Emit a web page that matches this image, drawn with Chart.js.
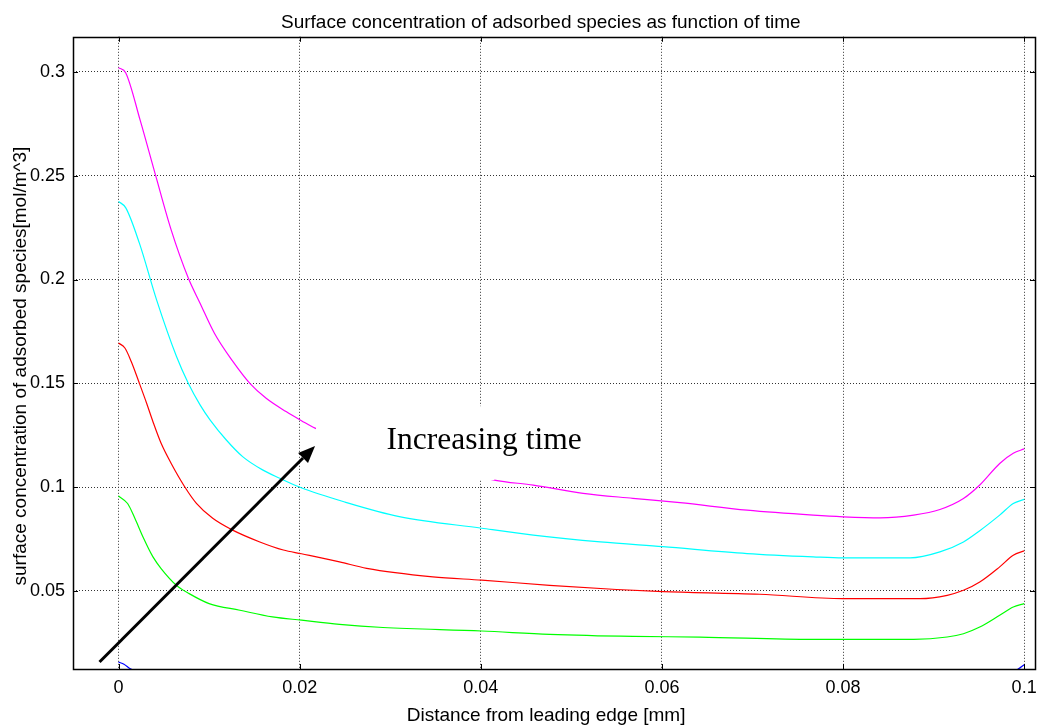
<!DOCTYPE html>
<html>
<head>
<meta charset="utf-8">
<script src="https://cdn.jsdelivr.net/npm/chart.js@4/dist/chart.umd.min.js"></script>
<style>
  html, body { margin: 0; padding: 0; background: #fff; }
</style>
</head>
<body>
<canvas id="c" width="1038" height="728"></canvas>
<script>
// Tick labels
const xTicks = [0, 0.02, 0.04, 0.06, 0.08, 0.1];
const yTicks = [0.05, 0.1, 0.15, 0.2, 0.25, 0.3];

// Curves (distance [mm], concentration)
const magentaX = [0, 0.0008, 0.0024, 0.0041, 0.0058, 0.0077, 0.009, 0.0106, 0.0126, 0.0145, 0.0163, 0.0185, 0.0202, 0.0217, 0.0415, 0.0458, 0.0513, 0.0568, 0.062, 0.0694, 0.0767, 0.08, 0.0841, 0.0878, 0.0907, 0.0933, 0.0951, 0.0973, 0.0988, 0.1];
const magentaY = [0.302, 0.2995, 0.2765, 0.25, 0.224, 0.2007, 0.1886, 0.174, 0.1607, 0.150, 0.1428, 0.1364, 0.132, 0.1284, 0.1034, 0.101, 0.097, 0.0946, 0.0925, 0.0889, 0.0865, 0.0857, 0.0852, 0.0865, 0.0892, 0.0945, 0.101, 0.1114, 0.1163, 0.1184];

const cyanX = [0, 0.0008, 0.0023, 0.0042, 0.0064, 0.0077, 0.009, 0.0101, 0.0119, 0.0137, 0.0159, 0.0178, 0.0201, 0.025, 0.031, 0.0401, 0.0458, 0.0532, 0.0601, 0.0694, 0.0767, 0.08, 0.0874, 0.0907, 0.0933, 0.0951, 0.0973, 0.0988, 0.1];
const cyanY = [0.2376, 0.2345, 0.2175, 0.1902, 0.1629, 0.150, 0.1396, 0.1324, 0.1227, 0.1147, 0.1083, 0.1043, 0.0998, 0.0928, 0.0858, 0.0802, 0.0769, 0.0736, 0.0713, 0.068, 0.0664, 0.0659, 0.0659, 0.0688, 0.0736, 0.079, 0.0865, 0.0921, 0.0941];

const redX = [0, 0.0007, 0.0014, 0.0023, 0.0031, 0.0038, 0.0047, 0.0058, 0.0073, 0.0086, 0.0104, 0.0126, 0.0156, 0.0182, 0.0202, 0.0244, 0.0274, 0.0347, 0.0401, 0.0476, 0.055, 0.0601, 0.0708, 0.08, 0.0885, 0.0915, 0.0933, 0.0951, 0.0973, 0.0988, 0.1];
const redY = [0.1694, 0.167, 0.1605, 0.150, 0.1404, 0.1315, 0.1211, 0.1115, 0.1002, 0.0922, 0.085, 0.0793, 0.0736, 0.0697, 0.0679, 0.064, 0.0609, 0.0568, 0.0552, 0.0527, 0.0507, 0.0497, 0.0484, 0.0463, 0.0463, 0.0479, 0.0503, 0.0543, 0.0616, 0.0672, 0.0693];

const greenX = [0, 0.001, 0.0018, 0.0027, 0.0038, 0.0047, 0.0064, 0.0078, 0.01, 0.0134, 0.017, 0.0202, 0.0244, 0.0292, 0.0401, 0.0476, 0.0568, 0.0642, 0.0767, 0.0878, 0.0915, 0.0933, 0.0951, 0.0973, 0.0988, 0.1];
const greenY = [0.0957, 0.0921, 0.085, 0.076, 0.0664, 0.0608, 0.0527, 0.0487, 0.0439, 0.0407, 0.0375, 0.0359, 0.0339, 0.0324, 0.0307, 0.0291, 0.0281, 0.0278, 0.0267, 0.0267, 0.0278, 0.0294, 0.0326, 0.0383, 0.0423, 0.0439];

const blueX = [0, 0.0006, 0.0013, 0.0025, 0.01, 0.05, 0.09, 0.0975, 0.0992, 0.1];
const blueY = [0.0157, 0.0147, 0.0125, 0.0105, 0.008, 0.007, 0.007, 0.0095, 0.012, 0.0145];

// Annotation, in data units
const noteText = 'Increasing time';
const noteAt = [0.0296, 0.1183];
const noteBox = [0.0218, 0.139, 0.0415, 0.1034];
const arrowFrom = [-0.0021, 0.0158];
const arrowTo = [0.0217, 0.1198];

function pts(xs, ys) {
  return xs.map((v, i) => ({ x: v, y: ys[i] }));
}

function series(xs, ys, color) {
  return {
    data: pts(xs, ys),
    borderColor: color,
    borderWidth: 1.2,
    pointRadius: 0,
    fill: false,
    cubicInterpolationMode: 'monotone'
  };
}

const sans = '"Liberation Sans", Arial, sans-serif';

// white label box, text and arrow drawn over the curves
const notePlugin = {
  id: 'note',
  afterDatasetsDraw(chart) {
    const { ctx } = chart;
    const sx = chart.scales.x, sy = chart.scales.y;
    const px = v => sx.getPixelForValue(v);
    const py = v => sy.getPixelForValue(v);
    ctx.save();
    const bx = px(noteBox[0]), by = py(noteBox[1]);
    ctx.fillStyle = '#fff';
    ctx.fillRect(bx, by, px(noteBox[2]) - bx, py(noteBox[3]) - by);

    ctx.fillStyle = '#000';
    ctx.font = '31.5px "Liberation Serif", "Times New Roman", serif';
    ctx.textBaseline = 'alphabetic';
    ctx.textAlign = 'left';
    ctx.fillText(noteText, px(noteAt[0]), py(noteAt[1]));

    const x0 = px(arrowFrom[0]), y0 = py(arrowFrom[1]);
    const x1 = px(arrowTo[0]), y1 = py(arrowTo[1]);
    const ang = Math.atan2(y1 - y0, x1 - x0);
    const head = 17, half = 7;
    const bxh = x1 - head * Math.cos(ang), byh = y1 - head * Math.sin(ang);
    ctx.strokeStyle = '#000';
    ctx.lineWidth = 3;
    ctx.beginPath();
    ctx.moveTo(x0, y0);
    ctx.lineTo(bxh, byh);
    ctx.stroke();
    ctx.beginPath();
    ctx.moveTo(x1, y1);
    ctx.lineTo(bxh + half * Math.sin(ang), byh - half * Math.cos(ang));
    ctx.lineTo(bxh - half * Math.sin(ang), byh + half * Math.cos(ang));
    ctx.closePath();
    ctx.fill();
    ctx.restore();
  }
};

// axes box with inward tick marks on all four sides
const framePlugin = {
  id: 'frame',
  afterDraw(chart) {
    const { ctx, chartArea: a } = chart;
    const sx = chart.scales.x, sy = chart.scales.y;
    const len = 5;
    ctx.save();
    ctx.strokeStyle = '#000';
    ctx.lineWidth = 1;
    ctx.beginPath();
    xTicks.forEach(v => {
      const p = Math.round(sx.getPixelForValue(v)) + 0.5;
      ctx.moveTo(p, a.bottom); ctx.lineTo(p, a.bottom - len);
      ctx.moveTo(p, a.top); ctx.lineTo(p, a.top + len);
    });
    yTicks.forEach(v => {
      const p = Math.round(sy.getPixelForValue(v)) + 0.5;
      ctx.moveTo(a.left, p); ctx.lineTo(a.left + len, p);
      ctx.moveTo(a.right, p); ctx.lineTo(a.right - len, p);
    });
    ctx.stroke();
    ctx.lineWidth = 1.5;
    ctx.strokeRect(Math.round(a.left) + 0.5, Math.round(a.top) + 0.5,
      Math.round(a.right - a.left), Math.round(a.bottom - a.top));
    ctx.restore();
  }
};

new Chart(document.getElementById('c'), {
  type: 'line',
  data: {
    datasets: [
      series(blueX, blueY, '#0000ff'),
      series(greenX, greenY, '#00ff00'),
      series(redX, redY, '#ff0000'),
      series(cyanX, cyanY, '#00ffff'),
      series(magentaX, magentaY, '#ff00ff')
    ]
  },
  options: {
    responsive: false,
    animation: false,
    layout: { padding: { left: 0, right: 3, top: 0, bottom: 0 } },
    plugins: {
      legend: { display: false },
      tooltip: { enabled: false },
      title: {
        display: true,
        // trailing spaces nudge the centred title a bit left, like the picture
        text: 'Surface concentration of adsorbed species as function of time     ',
        color: '#000',
        font: { family: sans, size: 19, weight: 'normal' },
        padding: { top: 11, bottom: 3 },
        fullSize: false
      }
    },
    scales: {
      x: {
        type: 'linear',
        min: -0.00503,
        max: 0.1012,
        afterBuildTicks: s => { s.ticks = xTicks.map(v => ({ value: v })); },
        afterFit: s => { s.height = 59; s.paddingLeft = 0; s.paddingRight = 0; },
        ticks: {
          color: '#000',
          font: { family: sans, size: 18 },
          padding: 8,
          maxRotation: 0,
          callback: v => String(v)
        },
        grid: { color: '#333', lineWidth: 1, drawTicks: false },
        border: { display: false, dash: [1, 2] },
        title: {
          display: true,
          text: 'Distance from leading edge [mm]   ',
          color: '#000',
          font: { family: sans, size: 19 },
          padding: { top: 0, bottom: 1 }
        }
      },
      y: {
        type: 'linear',
        min: 0.0124,
        max: 0.3169,
        afterBuildTicks: s => { s.ticks = yTicks.map(v => ({ value: v })); },
        afterFit: s => { s.width = 73; s.paddingTop = 0; s.paddingBottom = 0; },
        ticks: {
          color: '#000',
          font: { family: sans, size: 18 },
          padding: 8,
          callback: v => String(v)
        },
        grid: { color: '#333', lineWidth: 1, drawTicks: false },
        border: { display: false, dash: [1, 2] },
        title: {
          display: true,
          // trailing spaces push the rotated label a little lower, as in the picture
          text: 'surface concentration of adsorbed species[mol/m^3]     ',
          color: '#000',
          font: { family: sans, size: 19 },
          padding: { top: 9, bottom: 0 }
        }
      }
    }
  },
  plugins: [notePlugin, framePlugin]
});
</script>
</body>
</html>
